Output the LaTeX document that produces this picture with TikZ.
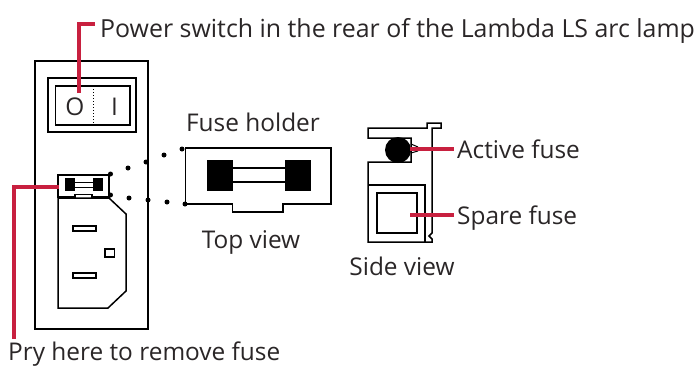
\documentclass[tikz,border=0pt]{standalone}
\usepackage{fontspec}
\setmainfont{Open Sans}
\definecolor{lred}{HTML}{C8203F}
\definecolor{ltext}{HTML}{2A2627}
\tikzset{
  lab/.style={inner sep=0pt,text=ltext,font=\fontsize{24.4}{28}\selectfont,anchor=base west},
  labc/.style={inner sep=0pt,text=ltext,font=\fontsize{24.4}{28}\selectfont,anchor=base},
  ln/.style={draw=black,line width=1.5pt,line join=miter},
  leader/.style={draw=lred,line width=4pt},
  fill1/.style={fill=black,draw=none},
  dotc/.style={circle,fill=black,inner sep=0pt,minimum size=5pt}
}
\begin{document}
\begin{tikzpicture}[x=1pt,y=-1pt]
\useasboundingbox (0,0) rectangle (696,367);
% housing
\draw[ln] (35,61) rectangle (148,329);
\draw[ln] (48,78) rectangle (136,132);
\draw[ln] (55.5,86) rectangle (130,125);
\draw[black,line width=1pt,dotted] (93,86) -- (93,125);
\node[labc] (o) at (75,115) {O};
\node[labc] (i) at (114.5,115) {I};
% small fuse
\draw[ln,line width=1.1pt] (58,175) -- (109,175) -- (109,197) -- (92,197) -- (92,194.5) -- (75,194.5) -- (75,197) -- (58,197) -- cycle;
\fill[fill1] (65,178) rectangle (75,191);
\fill[fill1] (92.5,178) rectangle (103,191);
\draw[black,line width=1pt] (75,182) -- (93,182) (75,187) -- (93,187);
% plug
\draw[ln] (58,198) -- (109,198) -- (126,214) -- (126,291) -- (108,308) -- (58,308) -- cycle;
\draw[ln] (73,226) rectangle (96,231);
\draw[ln] (73,273) rectangle (96,278);
\draw[ln] (105,249) rectangle (114.5,257);
% dotted guides
\foreach \n/\x/\y in {a1/110.5/174,a2/128/168,a3/146/162,a4/164/155,a5/182/149,b1/110.5/195,b2/129/198,b3/148/200,b4/167/202,b5/185/204}
  \node[dotc] (\n) at (\x,\y) {};
% fuse holder top view
\draw[ln,line width=1.3pt] (185.5,148) -- (331,148) -- (331,204) -- (283,204) -- (283,212) -- (232.5,212) -- (232.5,204) -- (185.5,204) -- cycle;
\fill[fill1] (207,160) rectangle (233,191);
\fill[fill1] (285,160) rectangle (311,191);
\draw[black,line width=1.3pt] (233,168) -- (285,168) (233,182) -- (285,182);
% side view
\draw[ln] (368,128) -- (427,128) -- (427,123) -- (441,123) -- (441,128) -- (432,128) -- (432,233) -- (429,236) -- (432,239) -- (432,242) -- (368,242) -- (368,162) -- (411,162) -- (411,138) -- (368,138) -- cycle;
\draw[ln] (368,185) -- (425,185) -- (425,242);
\draw[ln] (377,193) rectangle (417,233);
\draw[black,line width=1pt] (411,144) -- (418,147) (411,153) -- (418,151);
\fill[black] (398,150) circle (13);
% labels
\node[lab,font=\fontsize{24.9}{28}\selectfont] (power) at (100,37) {Power switch in the rear of the Lambda LS arc lamp};
\node[labc] (holder) at (253,131) {Fuse holder};
\node[labc] (top) at (251,248) {Top view};
\node[labc] (side) at (402,275) {Side view};
\node[lab] (active) at (457,158) {Active fuse};
\node[lab] (spare) at (457,224) {Spare fuse};
\node[lab] (pry) at (8,360.5) {Pry here to remove fuse};
% leaders
\coordinate (p0) at (79,93);
\coordinate (p1) at (79,23.5);
\coordinate (p2) at (95,23.5);
\draw[leader] (p0) -- (p1) -- (p2);
\coordinate (q0) at (59,187);
\coordinate (q1) at (14,187);
\coordinate (q2) at (14,339);
\draw[leader] (q0) -- (q1) -- (q2);
\coordinate (r0) at (410,149);
\coordinate (r1) at (454,149);
\draw[leader] (r0) -- (r1);
\coordinate (s0) at (410,215);
\coordinate (s1) at (454,215);
\draw[leader] (s0) -- (s1);
\end{tikzpicture}
\end{document}
